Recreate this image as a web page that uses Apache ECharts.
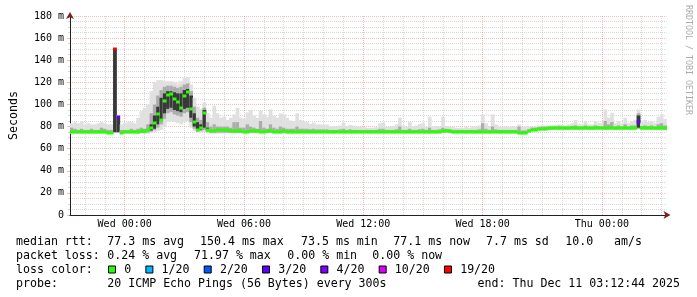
<!DOCTYPE html>
<html>
<head>
<meta charset="utf-8">
<script src="https://cdn.jsdelivr.net/npm/echarts@6/dist/echarts.min.js"></script>
<style>
html,body{margin:0;padding:0;background:#fff;}
#chart{width:697px;height:297px;}
</style>
</head>
<body>
<div id="chart"></div>
<script>
const _ = null;
// time axis: minutes relative to Wed 00:00; first step starts Tue 21:15, 10-minute steps
const startMin = -165;
const stepMin = 10;
const endMin = 1635;

// median rtt (ms) per step
const median = [
  75.2,75.0,75.3,74.9,75.1,75.4,75.0,74.8,75.1,75.2,
  74.7,74.5,74.6,150.4,89.0,74.5,74.8,75.0,75.3,75.0,
  75.5,76.0,76.2,76.5,79.0,83.0,91.0,86.0,103.0,108.5,
  109.0,105.0,102.0,97.0,108.0,111.5,96.0,84.0,77.0,79.0,
  92.0,77.0,75.8,76.0,76.5,77.0,77.0,76.5,76.0,75.8,
  75.6,75.8,75.5,75.4,75.8,76.0,75.6,75.5,75.4,75.6,
  75.8,75.5,75.3,75.5,75.6,75.4,75.3,75.5,75.2,75.4,
  75.3,75.2,75.5,75.3,75.1,75.2,75.4,75.3,75.1,75.2,
  75.3,75.0,75.2,75.4,75.1,75.0,75.2,75.3,75.1,75.0,
  75.2,75.1,75.0,75.3,75.2,75.0,75.1,75.3,75.2,75.4,
  75.1,75.0,75.2,75.1,75.3,75.0,75.2,75.4,75.1,75.0,
  75.2,75.5,75.8,76.0,75.6,75.2,75.0,75.1,75.0,74.9,
  75.0,75.2,75.1,75.0,75.3,75.1,75.0,75.2,75.1,74.9,
  75.0,74.8,74.9,75.0,74.7,74.5,74.3,74.5,76.0,77.3,
  77.3,77.8,78.0,78.0,78.3,78.5,78.6,78.4,78.5,78.6,
  78.5,78.7,78.6,78.5,78.7,78.8,78.6,78.5,78.7,78.8,
  78.7,78.6,78.8,78.7,78.5,78.6,78.7,78.8,78.6,78.5,
  78.7,84.0,78.8,78.6,78.7,78.5,78.6,78.4,78.5,78.3
];

// lost pings (of 20) per step
const loss = [
  0,0,0,0,0,0,0,0,0,0,
  0,0,0,19,3,0,0,0,0,0,
  0,0,0,0,0,0,0,0,0,0,
  0,0,0,0,0,0,0,0,0,0,
  0,0,0,0,0,0,0,0,0,0,
  0,0,0,0,0,0,0,0,0,0,
  0,0,0,0,0,0,0,0,0,0,
  0,0,0,0,0,0,0,0,0,0,
  0,0,0,0,0,0,0,0,0,0,
  0,0,0,0,0,0,0,0,0,0,
  0,0,0,0,0,0,0,0,0,0,
  0,0,0,0,0,0,0,0,0,0,
  0,0,0,0,0,0,0,0,0,0,
  0,0,0,0,0,0,0,0,0,0,
  0,0,0,0,0,0,0,0,0,0,
  0,0,0,0,0,0,0,0,0,0,
  0,0,0,0,0,0,0,0,0,0,
  0,3,0,0,0,0,0,0,0,0
];

// smoke: full ping range (light)
const smokeLo = [
  73.5,73.5,73.5,73.5,73.5,73.5,73.5,73.5,73.5,73.5,
  73.5,73.5,73.5,74,74,73.5,73.5,73.5,73.5,73.5,
  73.5,73.5,73.5,73.5,74,75,76,77,80,84,
  85,84,83,82,84,85,79,76,74.5,74.5,
  75,74,73.5,73.5,73.5,73.8,73.8,73.8,73.8,73.8,
  73.8,73.6,73.8,73.9,73.7,73.8,73.6,73.8,73.7,73.8,
  73.8,73.7,73.8,73.6,73.8,73.9,73.7,73.8,73.6,73.8,
  73.7,73.8,73.6,73.8,73.7,73.8,73.9,73.7,73.8,73.6,
  73.8,73.7,73.8,73.6,73.8,73.7,73.8,73.9,73.7,73.8,
  73.6,73.8,73.7,73.8,73.6,73.8,73.7,73.8,73.9,73.7,
  73.8,73.6,73.8,73.7,73.8,73.6,73.8,73.7,73.8,73.9,
  73.7,73.8,74.2,74.4,73.8,73.7,73.6,73.8,73.7,73.6,
  73.8,73.7,73.8,73.6,73.8,73.7,73.6,73.8,73.7,73.6,
  73.7,73.5,73.6,73.7,73.4,73.3,73.2,73.3,74.5,76.0,
  75.8,76.0,76.2,76.2,76.4,76.5,76.6,76.5,76.5,76.6,
  76.5,76.7,76.6,76.5,76.7,76.7,76.6,76.5,76.7,76.7,
  76.7,76.6,76.7,76.7,76.5,76.6,76.7,76.7,76.6,76.5,
  76.7,77.5,76.7,76.6,76.7,76.5,76.6,76.4,76.5,76.3
];
const smokeHi = [
  83,84,83,85,82,83,82,82,83,84,
  83,82,82,150.4,90,82,83,84,84,83,
  88,94,97,100,112,120,122,122,121,121,
  121,120,119,121,124,125,118,106,98,96,
  102,92,88,99,92,88,89,86,88,91,
  97,88,87,92.7,95,90,88,94.5,91,89,
  95.5,90,88,92,91,88,85.5,85,92,86,
  85,84,82.5,83.5,82,82,81.5,82,80,80.5,
  80,81,83.5,80,81.5,81,80,80,79.5,79,
  79,79,79.5,83,83.5,80,80,80.5,82,88,
  81,80,84,80,81,82.5,83,80,89,80,
  80.5,80,89,80.5,80,80,79,79,79,79.5,
  79,80,80,81,91,83,80,91,82,80,
  80,80,79.5,80,80,82,80,80,80,80,
  80.5,81,81,81,81,81,81.5,82,81.5,81,
  82,83,86,82,82,85,82,82,85,83,
  83,95.5,88,92.5,83,85,83,88,83,85,
  86,95.5,84,86,84,85,83,89,91,87
];
// smoke: inner ping range (mid grey)
const midLo = [
  74.2,74.2,74.2,74.2,74.2,74.2,74.2,74.2,74.2,74.2,
  74.2,74.2,74.2,74.5,74.5,74.2,74.2,74.2,74.2,74.2,
  74.2,74.2,74.0,74.5,75.5,77,79,82,87,92,
  93,91,90,89,92,93,84,78,75.5,76,
  77,75,74.5,74.5,74.5,74.4,74.4,74.4,74.4,74.4,
  74.4,74.4,74.4,74.4,74.4,74.4,74.4,74.4,74.4,74.4,
  74.4,74.4,74.4,74.4,74.4,74.4,74.4,74.4,74.4,74.4,
  74.4,74.4,74.4,74.4,74.4,74.4,74.4,74.4,74.4,74.4,
  74.4,74.4,74.4,74.4,74.4,74.4,74.4,74.4,74.4,74.4,
  74.4,74.4,74.4,74.4,74.4,74.4,74.4,74.4,74.4,74.4,
  74.4,74.4,74.4,74.4,74.4,74.4,74.4,74.4,74.4,74.4,
  74.4,74.4,74.6,74.8,74.4,74.4,74.4,74.4,74.4,74.4,
  74.4,74.4,74.4,74.4,74.4,74.4,74.4,74.4,74.4,74.4,
  74.4,74.4,74.4,74.4,74.2,74.0,73.8,74.0,75.0,76.3,
  76.5,76.8,77.0,77.0,77.2,77.3,77.4,77.3,77.3,77.4,
  77.3,77.5,77.4,77.3,77.5,77.5,77.4,77.3,77.5,77.5,
  77.5,77.4,77.5,77.5,77.3,77.4,77.5,77.5,77.4,77.3,
  77.5,78.0,77.5,77.4,77.5,77.3,77.4,77.2,77.3,77.1
];
const midHi = [
  79,78,77,78,77,77,78,77,77,79,
  78,77,77,150.4,89,77,77,77,78,77,
  78,79,78,82,92,100,108,113,116,117,
  117,116,115,116,118,119,112,98,88,86,
  97,84,80,82,80,80,80,80,79,84,
  84,79,79,82,80,79,78,85,79,78,
  82,79,78,80,79,78,78,78,80,78,
  78,78,77.5,78,77.5,77.5,77.5,77.5,77,77,
  77,77.5,78,77,77.5,77,77,77,77,77,
  77,77,77,78,78,77,77,77,77.5,80,
  77,77,78,77,77,77.5,78,77,79,77,
  77,77.5,79,78,77.5,77,77,77,77,77,
  77,77,77,77.5,83,78,77,80,77.5,77,
  77,77,77,77,77,80,76.5,76.5,77.5,79,
  79,79.5,80,80,80,80,80,80.5,80,80,
  80,80.5,81,80,80,81,80,80,81,80.5,
  80,85,82,84,80,81,80,82,80,81,
  81,92,80.5,81,80.5,81,80,82,83,81
];
// smoke: densest core (dark)
const coreLo = [
  _,_,_,_,_,_,_,_,_,_,
  _,_,_,75,75,_,_,_,_,_,
  _,_,_,_,76.5,78,82,85,92,96,
  97,95,94,93,96,97,88,80,76.5,77,
  79,76,_,_,_,_,_,_,_,_,
  _,_,_,_,_,_,_,_,_,_,
  _,_,_,_,_,_,_,_,_,_,
  _,_,_,_,_,_,_,_,_,_,
  _,_,_,_,_,_,_,_,_,_,
  _,_,_,_,_,_,_,_,_,_,
  _,_,_,_,_,_,_,_,_,_,
  _,_,_,_,_,_,_,_,_,_,
  _,_,_,_,_,_,_,_,_,_,
  _,_,_,_,_,_,_,_,_,_,
  _,_,_,_,_,_,_,_,_,_,
  _,_,_,_,_,_,_,_,_,_,
  _,_,_,_,_,_,_,_,_,_,
  _,79,_,_,_,_,_,_,_,_
];
const coreHi = [
  _,_,_,_,_,_,_,_,_,_,
  _,_,_,150.4,88,_,_,_,_,_,
  _,_,_,_,82,90,98,106,110,112,
  112,111,110,110,113,114,108,92,84,82,
  95,79,_,_,_,_,_,_,_,_,
  _,_,_,_,_,_,_,_,_,_,
  _,_,_,_,_,_,_,_,_,_,
  _,_,_,_,_,_,_,_,_,_,
  _,_,_,_,_,_,_,_,_,_,
  _,_,_,_,_,_,_,_,_,_,
  _,_,_,_,_,_,_,_,_,_,
  _,_,_,_,_,_,_,_,_,_,
  _,_,_,_,_,_,_,_,_,_,
  _,_,_,_,_,_,_,_,_,_,
  _,_,_,_,_,_,_,_,_,_,
  _,_,_,_,_,_,_,_,_,_,
  _,_,_,_,_,_,_,_,_,_,
  _,90,_,_,_,_,_,_,_,_
];

// loss colour classes
const lossNames = ['0','1/20','2/20','3/20','4/20','10/20','19/20'];
const lossMin   = [0,1,2,3,4,10,19];
const lossMax   = [0,1,2,3,9,18,20];
const lossColors = ['#26ff00','#00b8ff','#0059ff','#5e00ff','#7e00ff','#dd00ff','#ff0000'];

// axis ticks
const xTickValues = [0,360,720,1080,1440];
const xTickLabels = ['Wed 00:00','Wed 06:00','Wed 12:00','Wed 18:00','Thu 00:00'];
const hourLines = [-120,-60,0,60,120,180,240,300,360,420,480,540,600,660,720,780,840,900,960,1020,1080,1140,1200,1260,1320,1380,1440,1500,1560,1620];

// legend texts
const rowLabels = ['median rtt:','packet loss:','loss color:','probe:'];
const rttStats = ['77.3 ms avg','150.4 ms max','73.5 ms min','77.1 ms now','7.7 ms sd','10.0','am/s'];
const lossStats = ['0.24 % avg','71.97 % max','0.00 % min','0.00 % now'];
const probeText = '20 ICMP Echo Pings (56 Bytes) every 300s';
const endText = 'end: Thu Dec 11 03:12:44 2025';
const creditText = 'RRDTOOL / TOBI OETIKER';

// ---- layout / style ----
const FONT = '"DejaVu Sans Mono", monospace';
const GRID = 'rgba(158,158,158,0.4)';
const MGRID = 'rgba(245,41,41,0.32)';
const SMOKE = ['#e0e0e0', '#acacac', '#383838'];
const rowY = [241.5, 255.5, 269.5, 283.5];
const rttX = [107.3, 200, 301, 393.3, 486, 565.3, 614];
const lossX = [107.3, 194, 287.3, 372.3];

const smokeData = median.map((m, i) => [startMin + i * stepMin, smokeLo[i], smokeHi[i], midLo[i], midHi[i],
  coreLo[i] == null ? NaN : coreLo[i], coreHi[i] == null ? NaN : coreHi[i]]);

function renderSmoke(params, api) {
  const t = api.value(0);
  const x0 = api.coord([t, 0])[0];
  const x1 = api.coord([t + stepMin, 0])[0];
  const w = x1 - x0 + 0.4;
  const children = [];
  for (let b = 0; b < 3; b++) {
    const lo = api.value(1 + b * 2), hi = api.value(2 + b * 2);
    if (lo == null || hi == null || isNaN(lo) || isNaN(hi)) continue;
    const yTop = api.coord([t, hi])[1];
    const yBot = api.coord([t, lo])[1];
    children.push({type: 'rect', shape: {x: x0, y: yTop, width: w, height: yBot - yTop}, style: {fill: SMOKE[b]}});
  }
  return {type: 'group', children};
}

const medianSeries = lossNames.map((name, k) => {
  const data = [];
  median.forEach((m, i) => {
    if (loss[i] >= lossMin[k] && loss[i] <= lossMax[k]) data.push([startMin + i * stepMin, m]);
  });
  return {
    name, type: 'custom', z: 4, itemStyle: {color: lossColors[k]},
    dimensions: ['t', 'median'], encode: {x: 't', y: 'median'},
    renderItem: (params, api) => {
      const t = api.value(0), v = api.value(1);
      const p0 = api.coord([t, v]);
      const p1 = api.coord([t + stepMin, v]);
      return {type: 'rect', shape: {x: p0[0], y: Math.round(p0[1]) - 1.5, width: p1[0] - p0[0] + 0.4, height: 3}, style: {fill: lossColors[k]}};
    },
    data
  };
});

const texts = [];
const txt = (x, y, s, extra) => Object.assign({type: 'text', x, y, style: Object.assign({text: s, fill: '#000', font: '11.6px ' + FONT, verticalAlign: 'middle'}, extra || {})});
rowLabels.forEach((s, r) => texts.push(txt(16, rowY[r], s)));
rttStats.forEach((s, k) => texts.push(txt(rttX[k], rowY[0], s)));
lossStats.forEach((s, k) => texts.push(txt(lossX[k], rowY[1], s)));
texts.push(txt(107.3, rowY[3], probeText));
texts.push(txt(680, rowY[3], endText, {align: 'right'}));
texts.push({type: 'text', x: 688, y: 5, rotation: -Math.PI / 2, style: {text: creditText, fill: '#ababab', font: '8.3px ' + FONT, verticalAlign: 'middle', align: 'left'}});

const chart = echarts.init(document.getElementById('chart'), null, {renderer: 'canvas'});
chart.setOption({
  animation: false,
  backgroundColor: '#ffffff',
  grid: {left: 66.5, top: 16, width: 600, height: 199},
  legend: {
    data: lossNames, left: 108, top: 263.5, padding: 0, itemWidth: 7, itemHeight: 7, itemGap: 14.2,
    icon: 'rect', selectedMode: false,
    itemStyle: {borderColor: '#000', borderWidth: 1},
    textStyle: {fontFamily: FONT, fontSize: 11.6, color: '#000', padding: [0, 0, 0, 3.7]}
  },
  xAxis: [{
    type: 'value', min: startMin, max: endMin, interval: 15,
    axisLine: {show: true, onZero: false, lineStyle: {color: '#222', width: 1}},
    axisTick: {show: false}, splitLine: {show: false},
    axisLabel: {margin: 4, fontFamily: FONT, fontSize: 10, color: '#000',
      formatter: v => { const k = xTickValues.indexOf(v); return k >= 0 ? xTickLabels[k] : ''; }}
  }, {
    type: 'value', min: startMin, max: endMin, position: 'bottom',
    axisLine: {show: true, onZero: false, symbol: ['none', 'arrow'], symbolSize: [6, 7], symbolOffset: [0, 4],
      lineStyle: {color: '#801f1f', width: 0}},
    axisLabel: {show: false}, axisTick: {show: false}, splitLine: {show: false}
  }],
  yAxis: [{
    type: 'value', min: 0, max: 180, interval: 20,
    name: 'Seconds', nameLocation: 'middle', nameRotate: 90, nameGap: 50,
    nameTextStyle: {fontFamily: FONT, fontSize: 11.6, color: '#000'},
    axisLine: {show: true, onZero: false, lineStyle: {color: '#222', width: 1}},
    axisTick: {show: true, length: 3, lineStyle: {color: MGRID}},
    minorTick: {show: true, splitNumber: 4, length: 2, lineStyle: {color: GRID}},
    splitLine: {show: true, lineStyle: {color: MGRID, type: [1, 1], width: 1}},
    minorSplitLine: {show: true, lineStyle: {color: GRID, type: [1, 1], width: 1}},
    axisLabel: {margin: 6, fontFamily: FONT, fontSize: 10, color: '#000',
      formatter: v => v === 0 ? '0' : v + ' m'}
  }, {
    type: 'value', min: 0, max: 180, position: 'left',
    axisLine: {show: true, onZero: false, symbol: ['none', 'arrow'], symbolSize: [6, 7], symbolOffset: [0, 4],
      lineStyle: {color: '#801f1f', width: 0}},
    axisLabel: {show: false}, axisTick: {show: false}, splitLine: {show: false}
  }],
  graphic: texts,
  series: [{
    name: 'smoke', type: 'custom', z: 2,
    dimensions: ['t', 'lo', 'hi', 'mlo', 'mhi', 'clo', 'chi'],
    encode: {x: 't', y: ['lo', 'hi']},
    renderItem: renderSmoke,
    data: smokeData,
    markLine: {
      silent: true, symbol: ['none', 'none'], z: 1, animation: false,
      label: {show: false},
      lineStyle: {color: GRID, type: [1, 1], width: 1},
      data: hourLines.map(v => ({xAxis: v, lineStyle: {color: xTickValues.includes(v) ? MGRID : GRID, type: [1, 1], width: 1}}))
    }
  }].concat(medianSeries)
});
</script>
</body>
</html>
